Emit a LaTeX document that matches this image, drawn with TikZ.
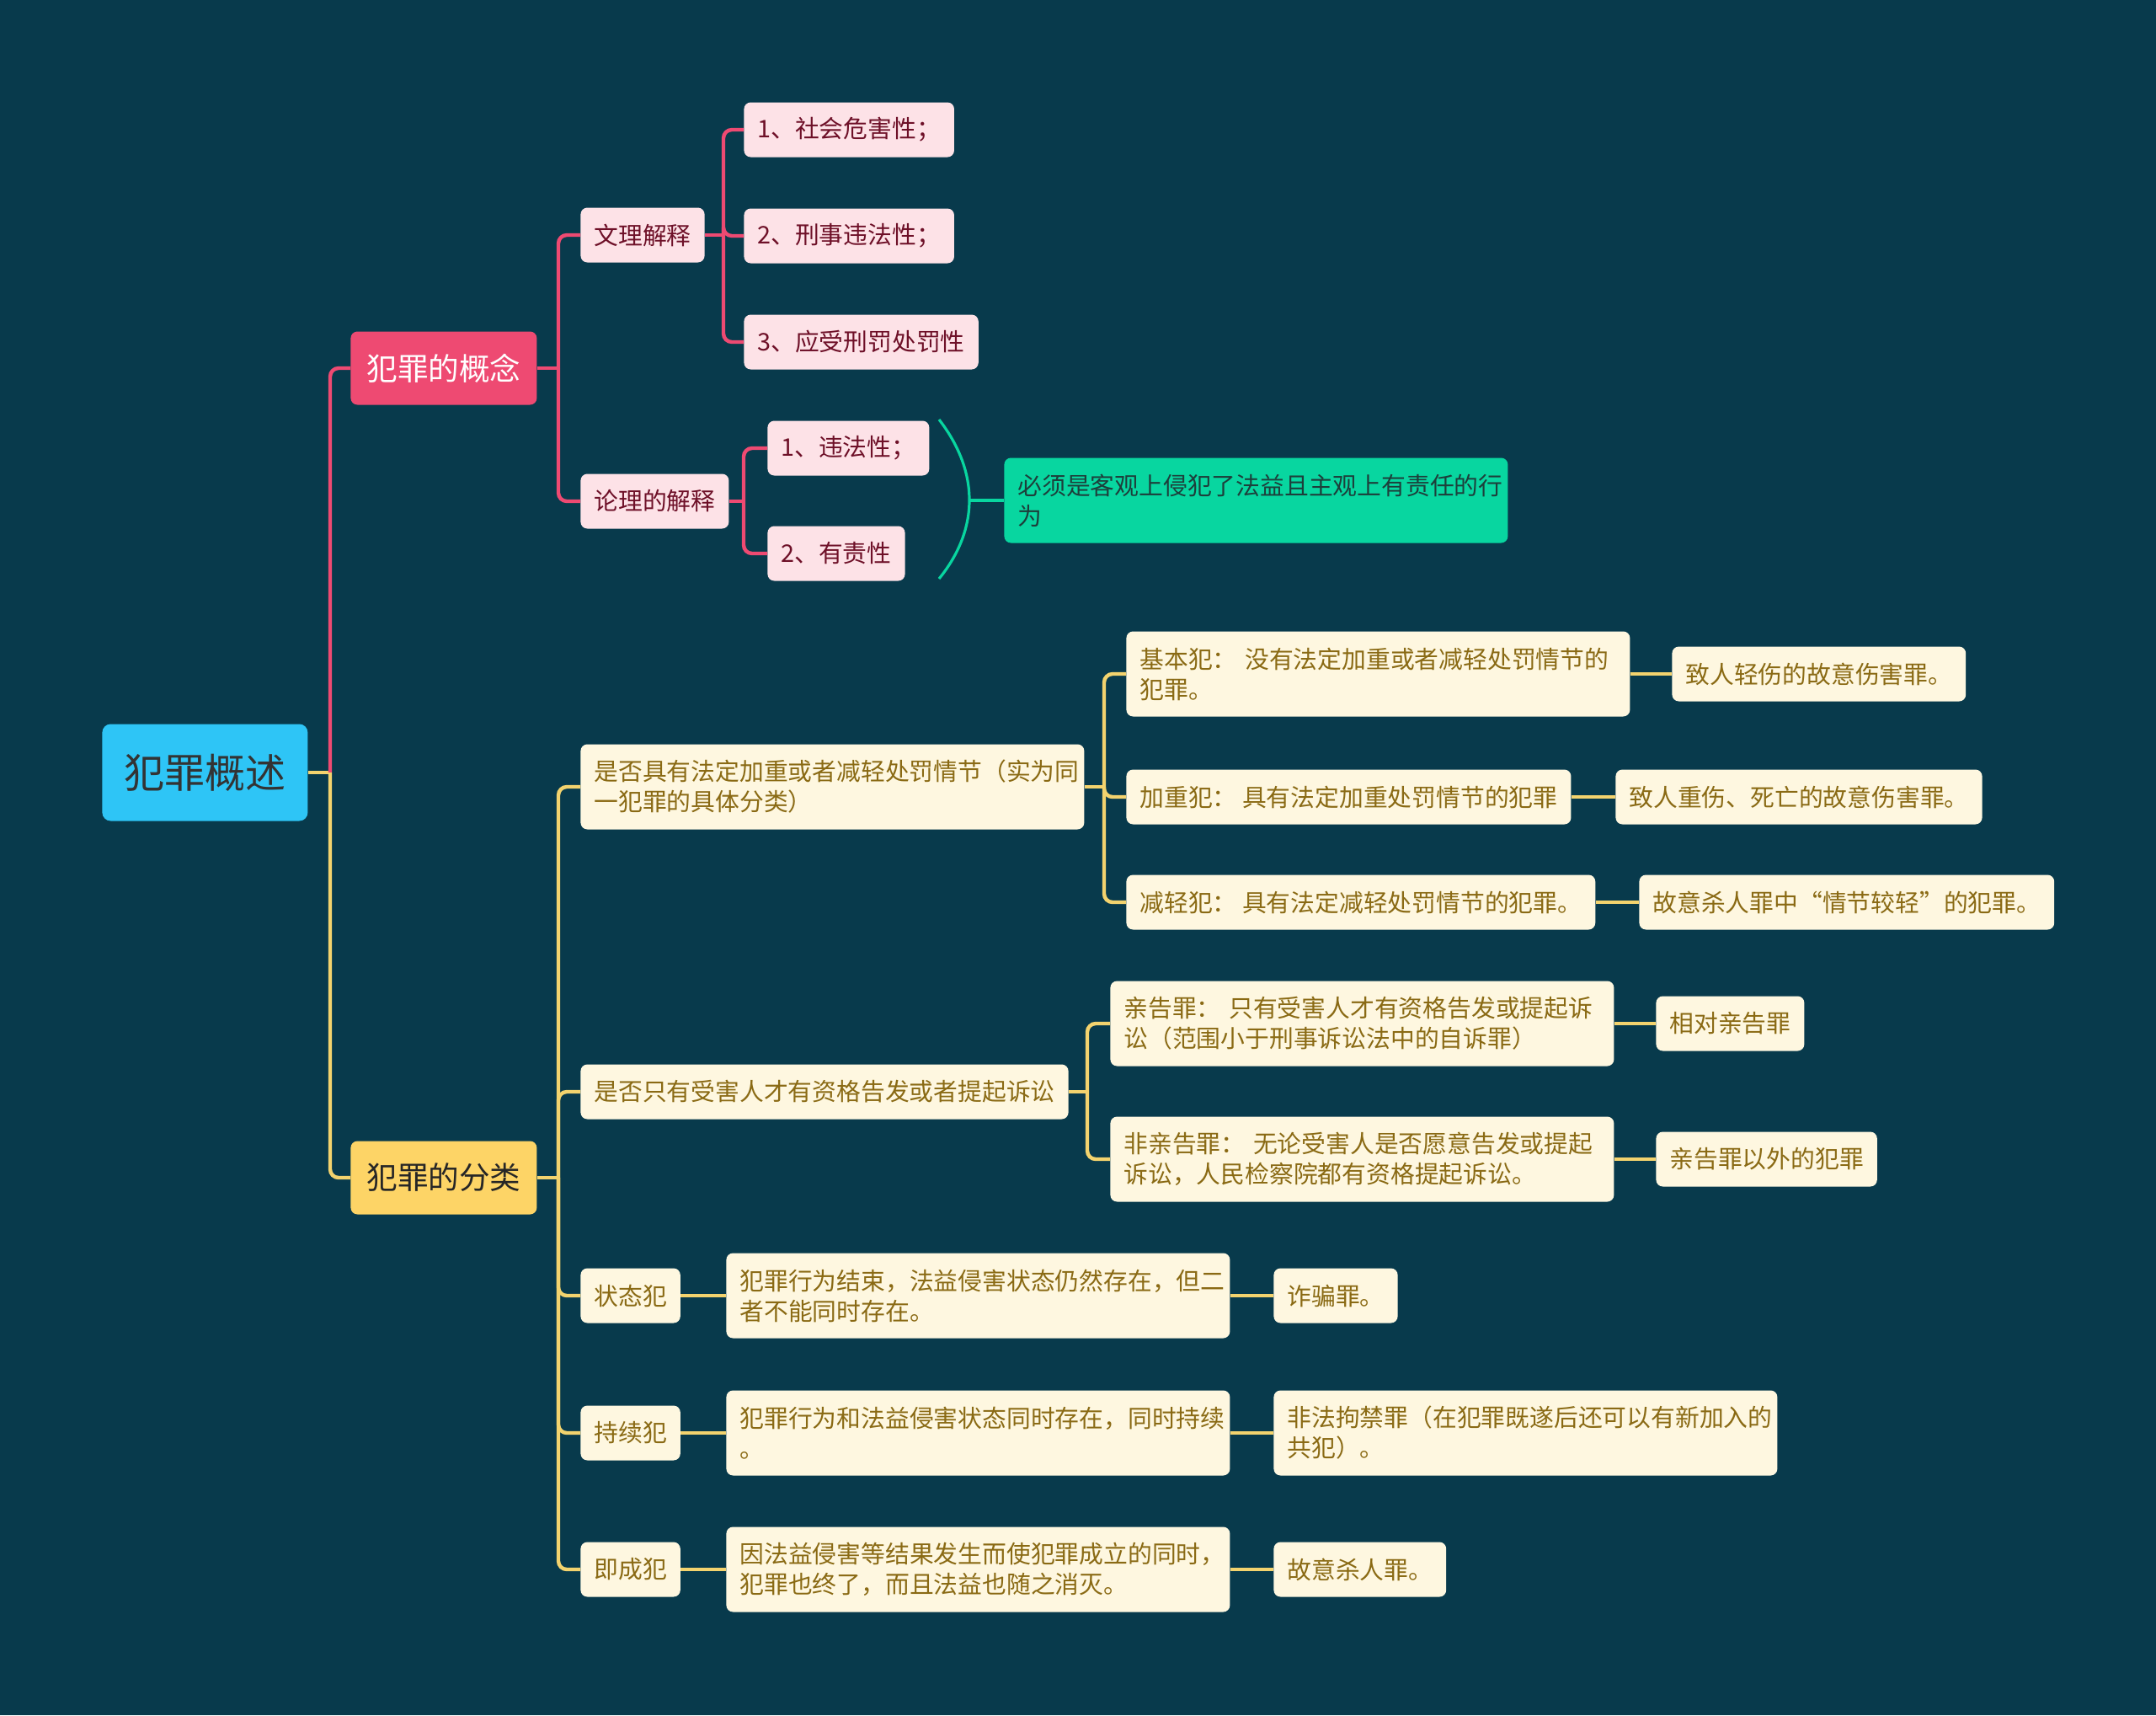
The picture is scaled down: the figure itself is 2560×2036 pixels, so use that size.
\documentclass[tikz,border=0pt]{standalone}
\usepackage{fontspec}
\setmainfont{Noto Sans CJK SC}
\usepackage{tikz}
\usetikzlibrary{positioning}

\definecolor{bgteal}{HTML}{083A4C}
\definecolor{rootblue}{HTML}{2EC5F6}
\definecolor{conceptred}{HTML}{EE4A72}
\definecolor{classyellow}{HTML}{FDD466}
\definecolor{pinkfill}{HTML}{FDE2E7}
\definecolor{pinktext}{HTML}{6E1028}
\definecolor{creamfill}{HTML}{FEF7E0}
\definecolor{creamtext}{HTML}{8A6A14}
\definecolor{mintfill}{HTML}{08D6A0}
\definecolor{minttext}{HTML}{1D3F3B}
\definecolor{goldline}{HTML}{F3D36E}

\begin{document}
\begin{tikzpicture}[x=0.5pt,y=-0.5pt,
    box/.style={anchor=west, inner xsep=8pt, inner ysep=0pt, rounded corners=4pt,
        font=\fontsize{14.4}{18}\selectfont, minimum height=32.5pt},
    rootbox/.style={box, fill=rootblue, text=black!80, font=\fontsize{24}{28}\selectfont,
        minimum height=57.5pt, inner xsep=13pt, rounded corners=5pt},
    topicred/.style={box, fill=conceptred, text=white, font=\fontsize{18.3}{22}\selectfont,
        minimum height=43.5pt, inner xsep=9.5pt},
    topicyellow/.style={topicred, fill=classyellow, text=black!85},
    pinkbox/.style={box, fill=pinkfill, text=pinktext},
    creambox/.style={box, fill=creamfill, text=creamtext},
    mintbox/.style={box, fill=mintfill, text=minttext},
    wide/.style={text width=283pt, align=left, minimum height=50.5pt},
    pinkln/.style={draw=conceptred, line width=2.2pt, rounded corners=5pt},
    goldln/.style={draw=goldline, line width=2.2pt, rounded corners=5pt},
    mintln/.style={draw=mintfill, line width=1.6pt}
]
    \fill[bgteal] (0,0) rectangle (2560,2036);
    \useasboundingbox (0,0) rectangle (2560,2036);

    % root and main topics
    \node[rootbox] (root) at (121,917) {犯罪概述};
    \node[topicred] (gn) at (416,437) {犯罪的概念};
    \node[topicyellow] (fl) at (416,1398) {犯罪的分类};

    % concept branch
    \node[pinkbox] (wl) at (689,279) {文理解释};
    \node[pinkbox] (ll) at (689,595) {论理的解释};
    \node[pinkbox] (w1) at (883,154) {1、社会危害性；};
    \node[pinkbox] (w2) at (883,280) {2、刑事违法性；};
    \node[pinkbox] (w3) at (883,406) {3、应受刑罚处罚性};
    \node[pinkbox] (l1) at (911,532) {1、违法性；};
    \node[pinkbox] (l2) at (911,657) {2、有责性};
    \node[mintbox, wide] (sum) at (1192,594) {必须是客观上侵犯了法益且主观上有责任的行\\为};

    % classification branch
    \node[creambox, wide] (ca) at (689,934) {是否具有法定加重或者减轻处罚情节（实为同\\一犯罪的具体分类）};
    \node[creambox] (cb) at (689,1296) {是否只有受害人才有资格告发或者提起诉讼};
    \node[creambox] (cc) at (689,1538) {状态犯};
    \node[creambox] (cd) at (689,1701) {持续犯};
    \node[creambox] (ce) at (689,1863) {即成犯};

    \node[creambox, wide] (a1) at (1337,800) {基本犯： 没有法定加重或者减轻处罚情节的\\犯罪。};
    \node[creambox] (a2) at (1337,946) {加重犯： 具有法定加重处罚情节的犯罪};
    \node[creambox] (a3) at (1337,1071) {减轻犯： 具有法定减轻处罚情节的犯罪。};
    \node[creambox] (a1x) at (1985,800) {致人轻伤的故意伤害罪。};
    \node[creambox] (a2x) at (1918,946) {致人重伤、死亡的故意伤害罪。};
    \node[creambox] (a3x) at (1946,1071) {故意杀人罪中“情节较轻”的犯罪。};

    \node[creambox, wide] (b1) at (1318,1215) {亲告罪： 只有受害人才有资格告发或提起诉\\讼（范围小于刑事诉讼法中的自诉罪）};
    \node[creambox, wide] (b2) at (1318,1376) {非亲告罪： 无论受害人是否愿意告发或提起\\诉讼，人民检察院都有资格提起诉讼。};
    \node[creambox] (b1x) at (1966,1215) {相对亲告罪};
    \node[creambox] (b2x) at (1966,1376) {亲告罪以外的犯罪};

    \node[creambox, wide] (c1) at (862,1538) {犯罪行为结束，法益侵害状态仍然存在，但二\\者不能同时存在。};
    \node[creambox] (c1x) at (1512,1538) {诈骗罪。};
    \node[creambox, wide] (d1) at (862,1701) {犯罪行为和法益侵害状态同时存在，同时持续\\。};
    \node[creambox, wide] (d1x) at (1512,1701) {非法拘禁罪（在犯罪既遂后还可以有新加入的\\共犯）。};
    \node[creambox, wide] (e1) at (862,1863) {因法益侵害等结果发生而使犯罪成立的同时，\\犯罪也终了，而且法益也随之消灭。};
    \node[creambox] (e1x) at (1512,1863) {故意杀人罪。};

    % connectors
    \coordinate (rt) at (392,917);
    \draw[goldln] (root.east) -- (rt);
    \draw[pinkln] (rt) |- (gn.west);
    \draw[goldln] (rt) |- (fl.west);

    \coordinate (gt) at (663,437);
    \draw[pinkln] (gn.east) -- (gt);
    \foreach \c in {wl,ll} \draw[pinkln] (gt) |- (\c.west);

    \coordinate (wt) at (859,279);
    \draw[pinkln] (wl.east) -- (wt);
    \foreach \c in {w1,w2,w3} \draw[pinkln] (wt) |- (\c.west);

    \coordinate (lt) at (883,595);
    \draw[pinkln] (ll.east) -- (lt);
    \foreach \c in {l1,l2} \draw[pinkln] (lt) |- (\c.west);

    % summary brace
    \draw[mintln] (1115,498) .. controls (1163,560) and (1163,628) .. (1115,687);
    \coordinate (bt) at (1151,594);
    \draw[mintln] (bt) -- (sum.west);

    \coordinate (ft) at (663,1398);
    \draw[goldln] (fl.east) -- (ft);
    \foreach \c in {ca,cb,cc,cd,ce} \draw[goldln] (ft) |- (\c.west);

    \coordinate (at) at (1311,934);
    \draw[goldln] (ca.east) -- (at);
    \foreach \c in {a1,a2,a3} \draw[goldln] (at) |- (\c.west);

    \coordinate (btk) at (1291,1296);
    \draw[goldln] (cb.east) -- (btk);
    \foreach \c in {b1,b2} \draw[goldln] (btk) |- (\c.west);

    \foreach \p/\c in {a1/a1x,a2/a2x,a3/a3x,b1/b1x,b2/b2x,cc/c1,c1/c1x,cd/d1,d1/d1x,ce/e1,e1/e1x}
        \draw[goldln] (\p.east) -- (\c.west);
\end{tikzpicture}
\end{document}
